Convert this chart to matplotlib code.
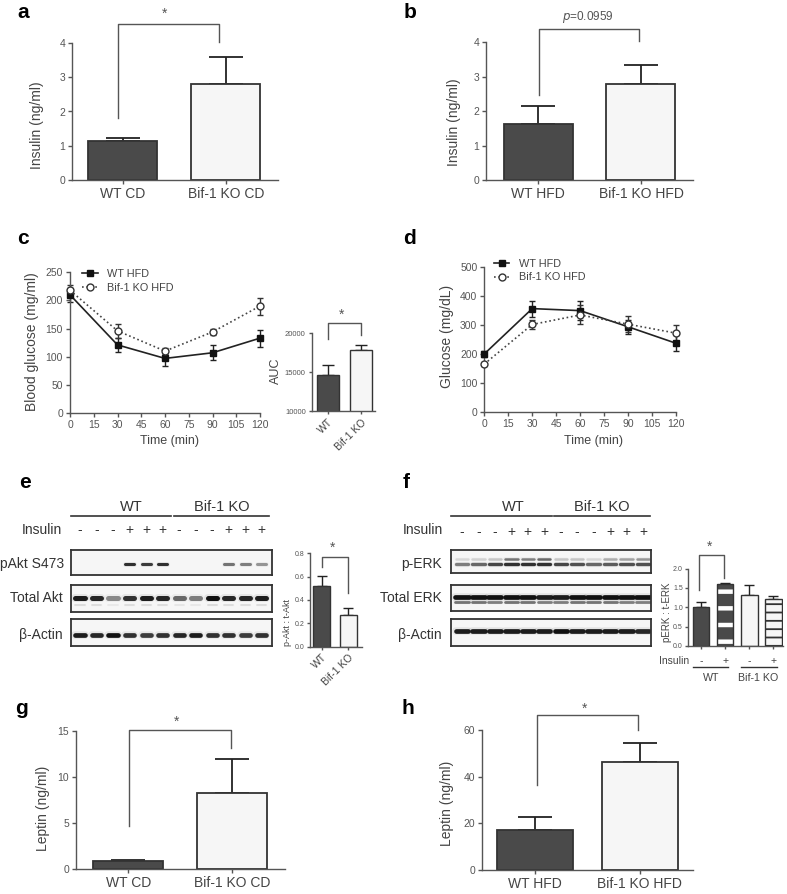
import numpy as np
import matplotlib.pyplot as plt

plt.rcParams['font.family'] = ['Liberation Sans', 'DejaVu Sans']

# ---------------- data ----------------
groups_cd = ['WT CD', 'Bif-1 KO CD']
groups_hfd = ['WT HFD', 'Bif-1 KO HFD']

insulin_cd = [1.14, 2.80]
insulin_cd_err = [0.08, 0.79]
insulin_hfd = [1.62, 2.80]
insulin_hfd_err = [0.53, 0.55]

time_min = [0, 30, 60, 90, 120]
itt_wt = [210, 121, 97, 107, 133]
itt_wt_err = [12, 12, 13, 13, 15]
itt_ko = [218, 146, 110, 144, 190]
itt_ko_err = [10, 12, 5, 6, 15]

auc_groups = ['WT', 'Bif-1 KO']
auc = [14650, 17800]
auc_err = [1300, 700]

gtt_wt = [200, 357, 350, 294, 237]
gtt_wt_err = [10, 28, 32, 25, 27]
gtt_ko = [165, 302, 335, 303, 272]
gtt_ko_err = [6, 17, 33, 28, 28]

lanes = list(range(1, 13))
insulin_signs = ['-', '-', '-', '+', '+', '+', '-', '-', '-', '+', '+', '+']

# band intensities (0 = no band)
pakt_band = [0, 0, 0, 0.85, 0.8, 0.85, 0, 0, 0, 0.55, 0.5, 0.4]
akt_band = [0.95, 0.9, 0.45, 0.85, 0.95, 0.9, 0.6, 0.5, 1.0, 0.9, 0.9, 0.95]
actin_e_band = [0.95, 0.9, 1.0, 0.85, 0.8, 0.85, 0.9, 0.95, 0.85, 0.85, 0.8, 0.85]
perk_up_band = [0.12, 0.15, 0.2, 0.55, 0.5, 0.6, 0.2, 0.2, 0.12, 0.3, 0.35, 0.4]
perk_low_band = [0.5, 0.6, 0.75, 0.85, 0.85, 0.85, 0.75, 0.7, 0.6, 0.65, 0.7, 0.7]
erk_up_band = [1.0, 1.0, 1.0, 1.0, 1.0, 0.95, 0.95, 1.0, 1.0, 1.0, 1.0, 1.0]
erk_low_band = [0.55, 0.55, 0.5, 0.55, 0.55, 0.5, 0.5, 0.55, 0.55, 0.55, 0.5, 0.5]
actin_f_band = [0.95, 0.95, 0.95, 0.95, 0.95, 0.95, 1.0, 0.95, 0.95, 0.95, 0.95, 0.9]

pakt_groups = ['WT', 'Bif-1 KO']
pakt_ratio = [0.52, 0.27]
pakt_ratio_err = [0.085, 0.06]

perk_signs = ['-', '+', '-', '+']
perk_ratio = [1.00, 1.60, 1.32, 1.21]
perk_ratio_err = [0.13, 0.02, 0.26, 0.08]

leptin_cd = [0.93, 8.3]
leptin_cd_err = [0.13, 3.6]
leptin_hfd = [17.1, 46.5]
leptin_hfd_err = [5.8, 7.8]

# ---------------- figure ----------------
W, H = 787, 894
fig = plt.figure(figsize=(W / 100, H / 100), dpi=100)

DARK = '#4a4a4a'
LIGHT = '#f6f6f6'
EDGE = '#333333'
GREY = '#555555'
TXT = '#444444'


def px_axes(x0, y0, x1, y1):
    return fig.add_axes([x0 / W, 1 - y1 / H, (x1 - x0) / W, (y1 - y0) / H])


def style(ax, fs=7.5, tl=3):
    for s in ['top', 'right']:
        ax.spines[s].set_visible(False)
    for s in ['left', 'bottom']:
        ax.spines[s].set_color(GREY)
        ax.spines[s].set_linewidth(1)
    ax.tick_params(colors=GREY, labelsize=fs, length=tl, width=1, pad=2)


def bar_panel(ax, vals, errs, xlim, ylim, yticks, width, capsize, lw=1.3):
    x = np.arange(len(vals))
    ax.errorbar(x, vals, yerr=[np.zeros(len(vals)), errs], fmt='none', ecolor='#222222',
                elinewidth=lw, capsize=capsize, capthick=lw, zorder=1)
    ax.bar(x, vals, width, color=[DARK, LIGHT], edgecolor=EDGE, linewidth=lw, zorder=2)
    ax.set_xlim(*xlim)
    ax.set_ylim(*ylim)
    ax.set_yticks(yticks)


def bracket(ax, x0, x1, yl, yr, ytop, lw=1):
    ax.plot([x0, x0, x1, x1], [yl, ytop, ytop, yr], color=GREY, lw=lw, clip_on=False)


def curve_panel(ax, wt, wt_err, ko, ko_err, ms_sq):
    ax.errorbar(time_min, wt, yerr=wt_err, fmt='none', ecolor='#222222', capsize=2.5,
                elinewidth=1, capthick=1, clip_on=False, zorder=2)
    ax.errorbar(time_min, ko, yerr=ko_err, fmt='none', ecolor='#333333', capsize=2.5,
                elinewidth=1, capthick=1, clip_on=False, zorder=2)
    ax.plot(time_min, wt, color='#222222', lw=1.2, marker='s', ms=ms_sq, mfc='#111111',
            mec='#111111', label='WT HFD', clip_on=False, zorder=3)
    ax.plot(time_min, ko, color='#444444', lw=1.2, ls=':', marker='o', ms=5, mfc='white',
            mec='#333333', mew=1, label='Bif-1 KO HFD', clip_on=False, zorder=4)


def legend(ax, anchor):
    leg = ax.legend(loc='upper left', bbox_to_anchor=anchor, borderaxespad=0, borderpad=0,
                    frameon=False, fontsize=7.8, handlelength=1.4, handletextpad=0.9,
                    labelspacing=0.35)
    for t in leg.get_texts():
        t.set_color(TXT)


# a
ax = px_axes(72, 43, 278, 180)
bar_panel(ax, insulin_cd, insulin_cd_err, (-0.495, 1.505), (0, 4), range(5), 0.67, 12)
style(ax)
ax.set_xticks([0, 1])
ax.set_xticklabels(groups_cd, fontsize=10, color=TXT)
bracket(ax, -0.05, 0.93, 1.81, 4.03, 4.55)
ax.text(0.40, 4.85, '*', ha='center', va='center', fontsize=10, color=GREY)

# b
ax = px_axes(486, 42.3, 693, 180)
bar_panel(ax, insulin_hfd, insulin_hfd_err, (-0.505, 1.505), (0, 4), range(5), 0.67, 12)
style(ax)
ax.set_xticks([0, 1])
ax.set_xticklabels(groups_hfd, fontsize=10, color=TXT)
bracket(ax, 0.01, 0.98, 2.47, 4.05, 4.40)
ax.text(0.485, 4.74, r'$\it{p}$=0.0959', ha='center', va='center', fontsize=8.5, color=GREY)

# c main
ax = px_axes(70, 272.3, 260, 413)
curve_panel(ax, itt_wt, itt_wt_err, itt_ko, itt_ko_err, 4)
ax.set_xlim(0, 120)
ax.set_ylim(0, 250)
ax.set_xticks(range(0, 121, 15))
ax.set_yticks(range(0, 251, 50))
style(ax, fs=7.5)
legend(ax, (0.065, 1.025))

# c AUC
ax = px_axes(312, 333, 375, 411)
bar_panel(ax, auc, auc_err, (-0.47, 1.42), (10000, 20000), [10000, 15000, 20000], 0.66, 4,
          lw=1)
style(ax, fs=5.5, tl=2.5)
ax.set_xticks([0, 1])
ax.set_xticklabels(auc_groups, rotation=45, ha='right', rotation_mode='anchor', fontsize=7.5,
                   color=TXT)
bracket(ax, 0, 1, 19230, 19780, 21320)
ax.text(0.43, 22300, '*', ha='center', va='center', fontsize=10, color=GREY)

# d
ax = px_axes(484.3, 267.3, 676, 411.7)
curve_panel(ax, gtt_wt, gtt_wt_err, gtt_ko, gtt_ko_err, 4.5)
ax.set_xlim(0, 120)
ax.set_ylim(0, 500)
ax.set_xticks(range(0, 121, 15))
ax.set_yticks(range(0, 501, 100))
style(ax, fs=7.5)
legend(ax, (0.052, 1.06))


# blots
def blot_axes(x0, y0, x1, y1, lo, hi):
    ax = px_axes(x0, y0, x1, y1)
    ax.set_xlim(lo, hi)
    ax.set_ylim(0, 1)
    ax.set_xticks([])
    ax.set_yticks([])
    ax.set_facecolor('#f6f6f6')
    for s in ax.spines.values():
        s.set_color('#333333')
        s.set_linewidth(1.3)
    return ax


def bands(ax, levels, y, thick, w=0.55):
    for lane, lev in zip(lanes, levels):
        if lev <= 0:
            continue
        ax.plot([lane - w / 2, lane + w / 2], [y, y], color='#111111', alpha=lev * 0.08,
                lw=thick * 1.6, solid_capstyle='round')
        ax.plot([lane - w / 2, lane + w / 2], [y, y], color='#111111', alpha=lev,
                lw=thick, solid_capstyle='round')


e_lo, e_hi = 0.437, 12.605
ax_pakt = blot_axes(70.7, 550, 271.7, 575, e_lo, e_hi)
bands(ax_pakt, pakt_band, 0.44, 2.2)
ax_akt = blot_axes(70.7, 585, 271.7, 611.7, e_lo, e_hi)
bands(ax_akt, akt_band, 0.52, 3.6)
bands(ax_akt, [v * 0.12 for v in akt_band], 0.25, 1.3)
ax_act = blot_axes(70.7, 619.3, 271.7, 646, e_lo, e_hi)
bands(ax_act, actin_e_band, 0.42, 3.4)

f_lo, f_hi = 0.331, 12.486
ax_perk = blot_axes(451, 550, 651, 573.3, f_lo, f_hi)
bands(ax_perk, perk_up_band, 0.62, 1.8, w=0.75)
bands(ax_perk, perk_low_band, 0.38, 2.4, w=0.75)
ax_erk = blot_axes(451, 585, 651, 611, f_lo, f_hi)
bands(ax_erk, erk_up_band, 0.54, 3.4, w=0.8)
bands(ax_erk, erk_low_band, 0.34, 2.0, w=0.8)
ax_actf = blot_axes(451, 619.3, 651, 646, f_lo, f_hi)
bands(ax_actf, actin_f_band, 0.57, 3.4, w=0.75)

for axb in [ax_pakt, ax_perk]:
    for lane, sg in zip(lanes, insulin_signs):
        axb.text(lane, 1 + (550 - 530.3) / 25, sg, transform=axb.get_xaxis_transform(),
                 ha='center', va='center', fontsize=10, color='#333333')

# e quantification
ax = px_axes(310, 553.3, 362, 646.7)
bar_panel(ax, pakt_ratio, pakt_ratio_err, (-0.44, 1.51), (0, 0.8), [0, 0.2, 0.4, 0.6, 0.8],
          0.64, 3.5, lw=1)
style(ax, fs=5, tl=2)
ax.set_yticklabels(['0.0', '0.2', '0.4', '0.6', '0.8'])
ax.set_xticks([0, 1])
ax.set_xticklabels(pakt_groups, rotation=45, ha='right', rotation_mode='anchor', fontsize=7.5,
                   color=TXT)
bracket(ax, 0, 1, 0.686, 0.46, 0.77)
ax.text(0.42, 0.846, '*', ha='center', va='center', fontsize=10, color=GREY)

# f quantification
ax = px_axes(688.3, 568.5, 783, 646)
x4 = np.arange(len(perk_ratio))
ax.errorbar(x4, perk_ratio, yerr=[np.zeros(4), perk_ratio_err], fmt='none', ecolor='#222222',
            elinewidth=1, capsize=3.5, capthick=1, zorder=1)
fcol = [DARK, DARK, LIGHT, LIGHT]
hcol = [DARK, 'white', EDGE, EDGE]
hatches = ['', '-', '', '--']
hlw = [1, 3.2, 1, 1.3]
for i in range(4):
    b = ax.bar(x4[i], perk_ratio[i], 0.69, color=fcol[i], edgecolor=hcol[i], hatch=hatches[i],
               linewidth=0, zorder=2)
    if hasattr(b[0], 'set_hatch_linewidth'):
        b[0].set_hatch_linewidth(hlw[i])
    ax.bar(x4[i], perk_ratio[i], 0.69, fill=False, edgecolor=EDGE, linewidth=1, zorder=3)
ax.set_xlim(-0.53, 3.4)
ax.set_ylim(0, 2.0)
ax.set_yticks([0, 0.5, 1.0, 1.5, 2.0])
ax.set_yticklabels(['0.0', '0.5', '1.0', '1.5', '2.0'])
style(ax, fs=5, tl=2)
ax.set_xticks(x4)
ax.set_xticklabels([])
bracket(ax, -0.1, 0.97, 1.45, 1.76, 2.34)
ax.text(0.37, 2.57, '*', ha='center', va='center', fontsize=10, color=GREY)
xt = ax.get_xaxis_transform()
for i, sg in enumerate(perk_signs):
    ax.text(x4[i], -0.19, sg, transform=xt, ha='center', va='center', fontsize=7.5, color=TXT,
            clip_on=False)
ax.text(-0.5, -0.19, 'Insulin', transform=xt, ha='right', va='center', fontsize=7.5, color=TXT)
ax.plot([-0.33, 1.12], [-0.27, -0.27], transform=xt, color=EDGE, lw=1, clip_on=False)
ax.plot([1.65, 3.14], [-0.27, -0.27], transform=xt, color=EDGE, lw=1, clip_on=False)
ax.text(0.4, -0.41, 'WT', transform=xt, ha='center', va='center', fontsize=7.7, color=TXT)
ax.text(2.36, -0.41, 'Bif-1 KO', transform=xt, ha='center', va='center', fontsize=7.7,
        color=TXT)

# g
ax = px_axes(76, 730.7, 285, 869.3)
bar_panel(ax, leptin_cd, leptin_cd_err, (-0.506, 1.515), (0, 15), [0, 5, 10, 15], 0.68, 12)
style(ax)
ax.set_xticks([0, 1])
ax.set_xticklabels(groups_cd, fontsize=10, color=TXT)
bracket(ax, 0.01, 0.99, 4.7, 13.1, 15.08)
ax.text(0.47, 16.0, '*', ha='center', va='center', fontsize=10, color=GREY)

# h
ax = px_axes(482.3, 730, 693.3, 870)
bar_panel(ax, leptin_hfd, leptin_hfd_err, (-0.5, 1.51), (0, 60), [0, 20, 40, 60], 0.72, 12)
style(ax)
ax.set_xticks([0, 1])
ax.set_xticklabels(groups_hfd, fontsize=10, color=TXT)
bracket(ax, 0.02, 0.98, 36.4, 60, 66.4)
ax.text(0.47, 68.9, '*', ha='center', va='center', fontsize=10, color=GREY)

# ---------------- overlay text ----------------
ov = fig.add_axes([0, 0, 1, 1], zorder=10)
ov.set_xlim(0, W)
ov.set_ylim(H, 0)
ov.axis('off')

for lab, x, y in [('a', 23, 13), ('b', 410, 13), ('c', 23, 238), ('d', 410, 238),
                  ('e', 25, 482), ('f', 406, 482), ('g', 22, 709), ('h', 408, 709)]:
    ov.text(x, y, lab, ha='center', va='center', fontsize=15, fontweight='bold', color='black')

ylabs = [('Insulin (ng/ml)', 37.5, 125, 10), ('Insulin (ng/ml)', 454, 122.5, 10),
         ('Blood glucose (mg/ml)', 32.5, 341.7, 10), ('AUC', 276, 370.7, 9),
         ('Glucose (mg/dL)', 446.7, 336, 10), ('p-Akt : t-Akt', 287, 622, 6.5),
         ('pERK : t-ERK', 667, 612, 7), ('Leptin (ng/ml)', 43.3, 808, 10),
         ('Leptin (ng/ml)', 446.7, 803, 10)]
for s, x, y, fs in ylabs:
    ov.text(x, y, s, rotation=90, ha='center', va='center', fontsize=fs, color=TXT)

ov.text(170, 441, 'Time (min)', ha='center', va='center', fontsize=9, color=TXT)
ov.text(593, 441, 'Time (min)', ha='center', va='center', fontsize=9, color=TXT)

# blot headers
for xa, xb, xc, xd, xwt, xko, xins in [(71, 170.7, 174, 269.3, 131, 222, 62.3),
                                        (451, 551.7, 554.3, 650, 513.3, 601.7, 442.7)]:
    ov.plot([xa, xb], [516, 516], color=EDGE, lw=1.2)
    ov.plot([xc, xd], [516, 516], color=EDGE, lw=1.2)
    ov.text(xwt, 507, 'WT', ha='center', va='center', fontsize=10.5, color='#333333')
    ov.text(xko, 507, 'Bif-1 KO', ha='center', va='center', fontsize=10.5, color='#333333')
    ov.text(xins, 530, 'Insulin', ha='right', va='center', fontsize=10, color='#333333')

for s, x, y in [('pAkt S473', 64, 564), ('Total Akt', 63, 598.5), ('β-Actin', 63, 634.5),
                ('p-ERK', 442, 564), ('Total ERK', 442, 598.5), ('β-Actin', 442, 634.5)]:
    ov.text(x, y, s, ha='right', va='center', fontsize=10, color='#333333')

fig.savefig('out.png', dpi=100)
